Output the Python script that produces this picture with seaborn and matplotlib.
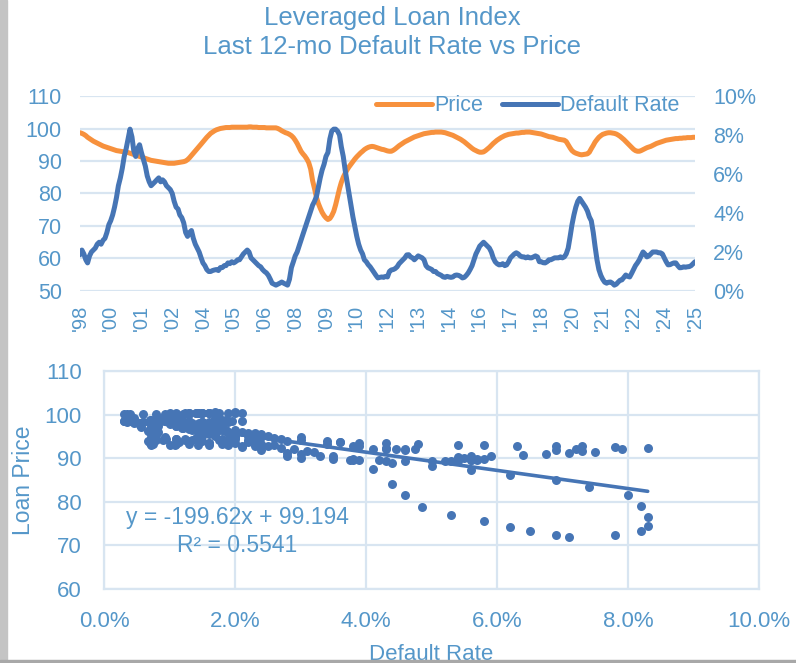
import numpy as np
import pandas as pd
import matplotlib
matplotlib.use("Agg")
import matplotlib.pyplot as plt
import seaborn as sns
from matplotlib.ticker import PercentFormatter
from matplotlib.patches import Rectangle

# monthly data, Nov 1998 .. Jul 2025
price = [
    98.7, 98.5,
    98.2, 97.8, 97.3, 96.9, 96.5, 96.1, 95.8, 95.5, 95.2, 94.9, 94.6, 94.4,
    94.2, 94.0, 93.8, 93.6, 93.4, 93.2, 93.1, 93.0, 92.9, 92.8, 92.7, 92.6,
    92.4, 92.2, 92.0, 91.8, 91.6, 91.4, 91.2, 91.0, 90.8, 90.6, 90.4, 90.2,
    90.1, 90.0, 89.9, 89.8, 89.7, 89.6, 89.5, 89.4, 89.3, 89.3, 89.3, 89.3,
    89.4, 89.5, 89.6, 89.7, 89.8, 90.0, 90.4, 91.0, 91.7, 92.4, 93.1, 93.8,
    94.5, 95.2, 95.9, 96.6, 97.3, 97.9, 98.5, 98.9, 99.3, 99.6, 99.8, 100.0,
    100.1, 100.2, 100.3, 100.3, 100.3, 100.4, 100.4, 100.4, 100.4, 100.4, 100.4, 100.4,
    100.4, 100.4, 100.5, 100.5, 100.4, 100.4, 100.4, 100.3, 100.3, 100.3, 100.3, 100.2,
    100.2, 100.2, 100.2, 100.2, 100.2, 100.0, 99.7, 99.3, 99.0, 98.7, 98.5, 98.2,
    97.8, 97.2, 96.4, 95.4, 94.2, 93.0, 92.2, 91.5, 90.6, 89.5, 87.5, 84.0,
    81.5, 78.8, 77.0, 75.5, 74.2, 73.2, 72.5, 72.0, 72.3, 73.2, 74.5, 76.5,
    79.0, 81.5, 83.4, 85.0, 86.2, 87.3, 88.2, 89.0, 89.8, 90.6, 91.3, 91.9,
    92.5, 93.0, 93.5, 93.9, 94.2, 94.4, 94.5, 94.4, 94.2, 94.0, 93.8, 93.6,
    93.5, 93.3, 93.1, 93.0, 93.0, 93.3, 93.7, 94.2, 94.7, 95.1, 95.5, 95.9,
    96.2, 96.5, 96.8, 97.1, 97.4, 97.6, 97.8, 98.0, 98.2, 98.4, 98.5, 98.6,
    98.7, 98.8, 98.8, 98.9, 98.9, 98.9, 98.9, 98.8, 98.7, 98.5, 98.3, 98.1,
    97.9, 97.6, 97.3, 97.0, 96.7, 96.3, 95.9, 95.4, 94.9, 94.4, 93.9, 93.5,
    93.2, 92.9, 92.7, 92.7, 92.8, 93.2, 93.7, 94.2, 94.8, 95.4, 95.9, 96.4,
    96.8, 97.2, 97.5, 97.8, 98.0, 98.2, 98.3, 98.4, 98.5, 98.6, 98.6, 98.7,
    98.8, 98.8, 98.9, 98.9, 98.9, 98.8, 98.7, 98.6, 98.5, 98.4, 98.3, 98.1,
    97.9, 97.7, 97.5, 97.4, 97.3, 97.1, 96.9, 96.7, 96.6, 96.5, 96.4, 96.0,
    95.0, 94.0, 93.2, 92.7, 92.4, 92.2, 92.0, 91.9, 92.0, 92.1, 92.2, 92.7,
    93.8, 94.8, 95.8, 96.6, 97.3, 97.8, 98.2, 98.4, 98.6, 98.7, 98.7, 98.6,
    98.5, 98.3, 98.0, 97.6, 97.1, 96.6, 96.0, 95.4, 94.8, 94.2, 93.6, 93.2,
    93.0, 93.0, 93.2, 93.5, 93.8, 94.1, 94.3, 94.5, 94.8, 95.1, 95.4, 95.6,
    95.8, 96.0, 96.2, 96.4, 96.5, 96.6, 96.7, 96.8, 96.9, 96.9, 97.0, 97.0,
    97.1, 97.1, 97.2, 97.2, 97.2, 97.3, 97.3,
]

default_rate = [  # percent
    1.86, 2.1,
    1.9, 1.6, 1.44, 1.8, 2.0, 2.1, 2.2, 2.4, 2.5, 2.4, 2.6, 2.7,
    3.0, 3.4, 3.6, 3.9, 4.3, 4.8, 5.4, 5.8, 6.3, 6.9, 7.3, 7.8,
    8.3, 7.9, 7.2, 6.9, 7.3, 7.5, 7.1, 6.75, 6.4, 5.9, 5.6, 5.4,
    5.5, 5.6, 5.7, 5.8, 5.6, 5.7, 5.6, 5.4, 5.3, 5.2, 5.0, 4.6,
    4.3, 4.2, 3.9, 3.76, 3.5, 3.0, 2.8, 3.0, 3.1, 2.7, 2.4, 2.2,
    2.0, 1.7, 1.44, 1.3, 1.1, 1.0, 1.0, 1.05, 1.08, 1.1, 1.05, 1.2,
    1.2, 1.3, 1.3, 1.44, 1.4, 1.5, 1.44, 1.5, 1.6, 1.6, 1.75, 1.9,
    2.0, 2.1, 2.0, 1.7, 1.6, 1.5, 1.4, 1.3, 1.24, 1.1, 1.0, 0.93,
    0.8, 0.6, 0.4, 0.35, 0.3, 0.35, 0.4, 0.46, 0.4, 0.35, 0.3, 0.6,
    1.2, 1.5, 1.8, 2.0, 2.3, 2.6, 2.9, 3.2, 3.5, 3.8, 4.1, 4.4,
    4.6, 4.85, 5.3, 5.8, 6.2, 6.5, 6.9, 7.1, 7.8, 8.2, 8.3, 8.3,
    8.2, 8.0, 7.4, 6.9, 6.2, 5.6, 5.0, 4.4, 3.8, 3.3, 2.8, 2.4,
    2.1, 1.9, 1.6, 1.5, 1.35, 1.24, 1.1, 0.95, 0.8, 0.67, 0.7, 0.72,
    0.7, 0.75, 0.72, 1.0, 1.08, 1.1, 1.15, 1.24, 1.4, 1.5, 1.6, 1.7,
    1.85, 1.86, 1.75, 1.7, 1.6, 1.7, 1.8, 1.75, 1.7, 1.6, 1.3, 1.19,
    1.15, 1.1, 1.0, 1.0, 0.9, 0.85, 0.8, 0.72, 0.7, 0.75, 0.72, 0.7,
    0.72, 0.8, 0.82, 0.8, 0.75, 0.67, 0.7, 0.8, 0.93, 1.1, 1.3, 1.6,
    1.9, 2.1, 2.3, 2.4, 2.5, 2.4, 2.3, 2.2, 2.0, 1.7, 1.5, 1.4,
    1.34, 1.35, 1.4, 1.3, 1.34, 1.5, 1.7, 1.8, 1.9, 1.96, 1.9, 1.8,
    1.75, 1.75, 1.7, 1.75, 1.7, 1.7, 1.75, 1.8, 1.75, 1.5, 1.5, 1.45,
    1.44, 1.5, 1.6, 1.6, 1.65, 1.7, 1.7, 1.7, 1.75, 1.7, 1.75, 1.9,
    2.2, 2.8, 3.4, 3.9, 4.3, 4.6, 4.75, 4.6, 4.45, 4.3, 4.1, 3.8,
    3.6, 3.0, 2.3, 1.6, 1.1, 0.8, 0.6, 0.45, 0.4, 0.45, 0.46, 0.4,
    0.3, 0.35, 0.45, 0.55, 0.57, 0.7, 0.82, 0.75, 0.72, 0.9, 1.1, 1.3,
    1.44, 1.6, 1.8, 2.0, 1.9, 1.75, 1.8, 1.9, 2.0, 2.0, 2.0, 1.96,
    1.96, 1.9, 1.7, 1.5, 1.34, 1.35, 1.4, 1.44, 1.44, 1.3, 1.19, 1.2,
    1.24, 1.22, 1.24, 1.25, 1.3, 1.4, 1.5,
]

year_labels = ["'98", "'00", "'01", "'02", "'04", "'05", "'06", "'08", "'09", "'10", "'12",
               "'13", "'14", "'16", "'17", "'18", "'20", "'21", "'22", "'24", "'25"]

trend_text = "y = -199.62x + 99.194\nR² = 0.5541"

orange = "#F7913D"
blue = "#4675B5"
txt = "#5597C9"
grid = "#D8E5F1"

dates = pd.date_range("1998-11-01", periods=len(price), freq="MS")
df = pd.DataFrame({"date": dates, "price": price, "default": np.array(default_rate) / 100})

sns.set_theme(style="white")
plt.rcParams["font.family"] = ["Liberation Sans", "DejaVu Sans"]

fig = plt.figure(figsize=(7.96, 6.63), dpi=100)

# ---- top: time series ----
ax1 = fig.add_axes([0.1005, 0.5611, 0.7726, 0.2941])
sns.lineplot(data=df, x="date", y="price", ax=ax1, color=orange, lw=3.6, label="Price", legend=False)
ax2 = ax1.twinx()
sns.lineplot(data=df, x="date", y="default", ax=ax2, color=blue, lw=3.6, label="Default Rate", legend=False)

ax1.set_xlim(dates[0], dates[-1])
ax1.set_ylim(50, 110)
ax1.set_yticks(range(50, 111, 10))
ax2.set_ylim(0, 0.10)
ax2.set_yticks(np.arange(0, 0.101, 0.02))
ax2.yaxis.set_major_formatter(PercentFormatter(1, decimals=0))
ax1.set_xticks(dates[::16])
ax1.set_xticklabels(year_labels, rotation=90)
ax1.yaxis.grid(True, color=grid, lw=1.6)
ax1.xaxis.grid(False)
ax1.set_axisbelow(True)
for a in (ax1, ax2):
    a.set_xlabel("")
    a.set_ylabel("")
    for s in a.spines.values():
        s.set_visible(False)
ax1.tick_params(axis="y", length=0, pad=13, labelsize=15.5, labelcolor=txt)
ax1.tick_params(axis="x", length=0, pad=10, labelsize=14.5, labelcolor=txt)
ax2.tick_params(axis="y", length=0, pad=13, labelsize=15.5, labelcolor=txt)

h1, l1 = ax1.get_legend_handles_labels()
h2, l2 = ax2.get_legend_handles_labels()
leg = ax2.legend(h1 + h2, l1 + l2, loc="center right", bbox_to_anchor=(0.975, 0.95), ncol=2,
                 frameon=False, fontsize=15.5, handlelength=2.6, handletextpad=0.1,
                 columnspacing=0.9, borderaxespad=0, borderpad=0)
for t in leg.get_texts():
    t.set_color(txt)

# ---- bottom: scatter ----
ax3 = fig.add_axes([0.1307, 0.1116, 0.8229, 0.3288])
sns.scatterplot(data=df, x="default", y="price", ax=ax3, color=blue, s=42, linewidth=0, zorder=3)
sns.regplot(data=df, x="default", y="price", ax=ax3, scatter=False, ci=None, color=blue,
            line_kws={"lw": 2.6, "zorder": 4})
ax3.set_xlim(0, 0.10)
ax3.set_ylim(60, 110)
ax3.set_xticks(np.arange(0, 0.101, 0.02))
ax3.set_yticks(range(60, 111, 10))
ax3.xaxis.set_major_formatter(PercentFormatter(1, decimals=1))
ax3.grid(True, color=grid, lw=1.6)
ax3.set_axisbelow(True)
for s in ax3.spines.values():
    s.set_visible(True)
    s.set_color(grid)
    s.set_linewidth(1.6)
ax3.tick_params(length=0, pad=16, labelsize=16, labelcolor=txt)
ax3.set_xlabel("Default Rate", fontsize=16, color=txt)
ax3.set_ylabel("Loan Price", fontsize=16.5, color=txt)
ax3.xaxis.set_label_coords(0.5, -0.25)
ax3.yaxis.set_label_coords(-0.105, 0.5)
ax3.text(0.0203, 73.2, trend_text, ha="center", va="center", fontsize=16.5, color=txt,
         linespacing=1.25, zorder=5)

# titles
fig.text(0.493, 1 - 18 / 663, "Leveraged Loan Index", ha="center", va="center", fontsize=18.5, color=txt)
fig.text(0.493, 1 - 47 / 663, "Last 12-mo Default Rate vs Price", ha="center", va="center",
         fontsize=18.5, color=txt)

# grey frame edges of the screenshot
fig.add_artist(Rectangle((0, 0), 7 / 796, 1, transform=fig.transFigure, color="#C4C4C4", zorder=10))
fig.add_artist(Rectangle((0, 0), 1, 3 / 663, transform=fig.transFigure, color="#A8A8A8", zorder=10))

fig.savefig("out.png", dpi=100)
